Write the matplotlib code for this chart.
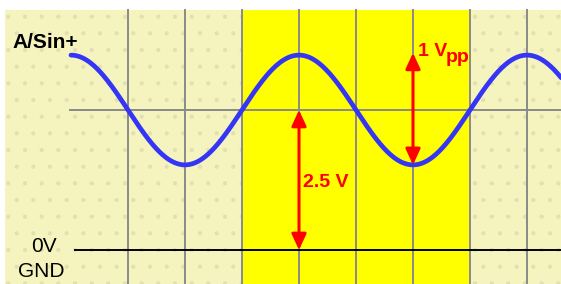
import numpy as np
import matplotlib.pyplot as plt
from matplotlib.patches import Rectangle, FancyArrowPatch, ArrowStyle

# time axis in grid divisions, voltage axis in volts (display scale)
grid_divs = [1, 2, 3, 4, 5, 6, 7, 8]
band_divs = (3, 7)            # highlighted region
offset_v = 2.5                # DC level of the sine
amplitude_v = 0.98            # half of the drawn peak-to-peak swing
period_divs = 4
wave_start, wave_end = 0.0, 8.6

arrow_offset = {"x": 4, "from": offset_v, "to": 0.0, "label": "2.5 V"}
arrow_pp = {"x": 6, "from": offset_v + amplitude_v + 0.04, "to": offset_v - amplitude_v, "label": "1 V", "sub": "pp"}

PALE = "#F6F4BE"
BAND = "#FFFF00"
GRID = "#8A8A8A"
BLUE = "#3535F5"
RED = "#FF0000"

plt.rcParams["hatch.linewidth"] = 0.6

fig = plt.figure(figsize=(5.61, 2.84), dpi=100)
ax = fig.add_axes([0, 0, 1, 1])
x_min, x_max = -71 / 57, 490 / 57
y_min, y_max = -34 / 56, 250 / 56
ax.set_xlim(x_min, x_max)
ax.set_ylim(y_min, y_max)
ax.axis("off")

top_v = 4.286
ax.add_patch(Rectangle((-1.158, y_min), x_max + 1.158, top_v - y_min,
                       facecolor=PALE, edgecolor="#E2E0B2", hatch=".", linewidth=0, zorder=0))
ax.add_patch(Rectangle((band_divs[0], y_min), band_divs[1] - band_divs[0], top_v - y_min,
                       facecolor=BAND, edgecolor="none", zorder=1))

for d in grid_divs:
    ax.plot([d, d], [y_min, top_v], color=GRID, linewidth=1.4, zorder=2)
ax.plot([-0.02, x_max], [offset_v, offset_v], color=GRID, linewidth=1.4, zorder=2)
ax.plot([0.07, x_max], [0, 0], color="black", linewidth=1.4, zorder=3)

t = np.linspace(wave_start, wave_end, 600)
v = offset_v + amplitude_v * np.sin(2 * np.pi * (t - 1) / period_divs + np.pi)
ax.plot(t, v, color=BLUE, linewidth=3.4, solid_capstyle="round", zorder=4)

style = ArrowStyle("<|-|>", head_length=9.5, head_width=4.4)
for arr in (arrow_offset, arrow_pp):
    ax.add_patch(FancyArrowPatch((arr["x"], arr["from"]), (arr["x"], arr["to"]),
                                 arrowstyle=style, mutation_scale=1, color=RED,
                                 linewidth=2.2, shrinkA=0, shrinkB=0, zorder=5))

ax.text(-1.035, 3.607, "A/Sin+", family="Liberation Sans", fontweight="bold",
        fontsize=15, va="baseline", ha="left", zorder=6)
ax.text(-0.482, -0.036, "0V", family="Liberation Sans", fontsize=15,
        va="baseline", ha="center", zorder=6)
ax.text(-0.518, -0.482, "GND", family="Liberation Sans", fontsize=15,
        va="baseline", ha="center", zorder=6)
ax.text(4.07, 1.13, arrow_offset["label"], family="Liberation Sans", fontweight="bold",
        fontsize=14, color=RED, va="baseline", ha="left", zorder=6)
ax.text(6.09, 3.464, arrow_pp["label"], family="Liberation Sans", fontweight="bold",
        fontsize=14, color=RED, va="baseline", ha="left", zorder=6)
ax.text(6.58, 3.35, arrow_pp["sub"], family="Liberation Sans", fontweight="bold",
        fontsize=14, color=RED, va="baseline", ha="left", zorder=6)

fig.savefig("out.png", dpi=100)
